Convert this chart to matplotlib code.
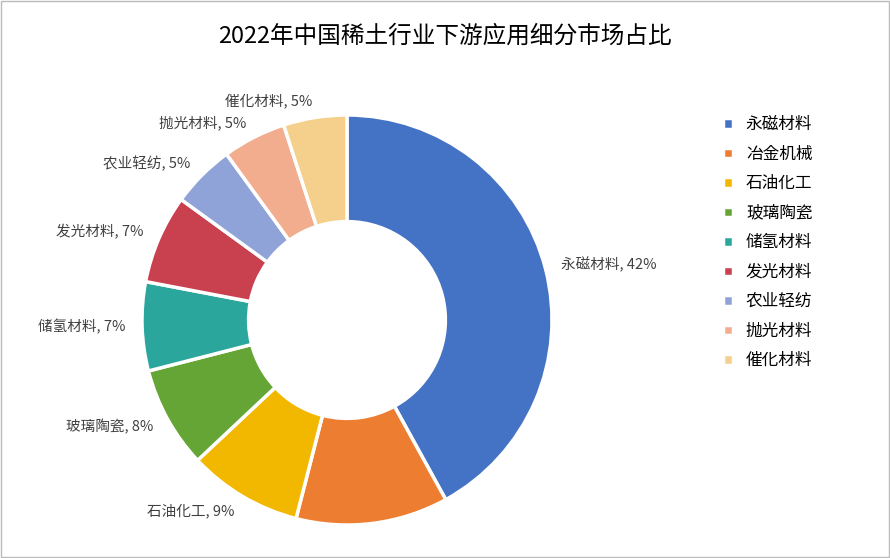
import matplotlib.pyplot as plt
from matplotlib import font_manager
from matplotlib.patches import Rectangle

# pick an installed CJK font
cjk = [f for f in font_manager.fontManager.ttflist if "CJK" in f.name]
names = sorted(set(f.name for f in cjk))
fam = "Noto Sans CJK SC" if "Noto Sans CJK SC" in names else (names[0] if names else "DejaVu Sans")
plt.rcParams["font.family"] = "sans-serif"
plt.rcParams["font.sans-serif"] = [fam, "Noto Sans CJK JP", "DejaVu Sans"]

categories = ["永磁材料", "冶金机械", "石油化工", "玻璃陶瓷", "储氢材料", "发光材料", "农业轻纺", "抛光材料", "催化材料"]
shares = [42, 12, 9, 8, 7, 7, 5, 5, 5]
show_label = [True, False, True, True, True, True, True, True, True]
colors = ["#4472C4", "#ED7D31", "#F2B800", "#64A535", "#2BA69C", "#C9404F", "#8FA3D8", "#F2AC8E", "#F5CF8C"]

fig = plt.figure(figsize=(8.9, 5.58), dpi=100)
fig.patches.append(Rectangle((0.001, 0.001), 0.998, 0.998, transform=fig.transFigure,
                             fill=False, edgecolor="#BBBBBB", linewidth=1))

ax = fig.add_axes([(347 - 205) / 890, (558 - 320 - 205) / 558, 410 / 890, 410 / 558])
labels = [f"{c}, {v}%" if s else "" for c, v, s in zip(categories, shares, show_label)]
wedges, texts = ax.pie(shares, labels=labels, colors=colors, startangle=90, counterclock=False,
                       radius=1, labeldistance=1.08,
                       wedgeprops=dict(width=0.52, edgecolor="white", linewidth=2.5),
                       textprops=dict(fontsize=10.5, color="#404040"))
ax.set_xlim(-1, 1)
ax.set_ylim(-1, 1)
ax.set_aspect("equal")

fig.text(0.5, 0.935, "2022年中国稀土行业下游应用细分市场占比", ha="center", va="center",
         fontsize=17, color="#000000")

fig.legend(wedges, categories, loc="center left", bbox_to_anchor=(0.795, 0.565), frameon=False,
           fontsize=12, handlelength=0.6, handleheight=0.6, labelspacing=0.75, handletextpad=0.8)

fig.savefig("out.png", dpi=100)
